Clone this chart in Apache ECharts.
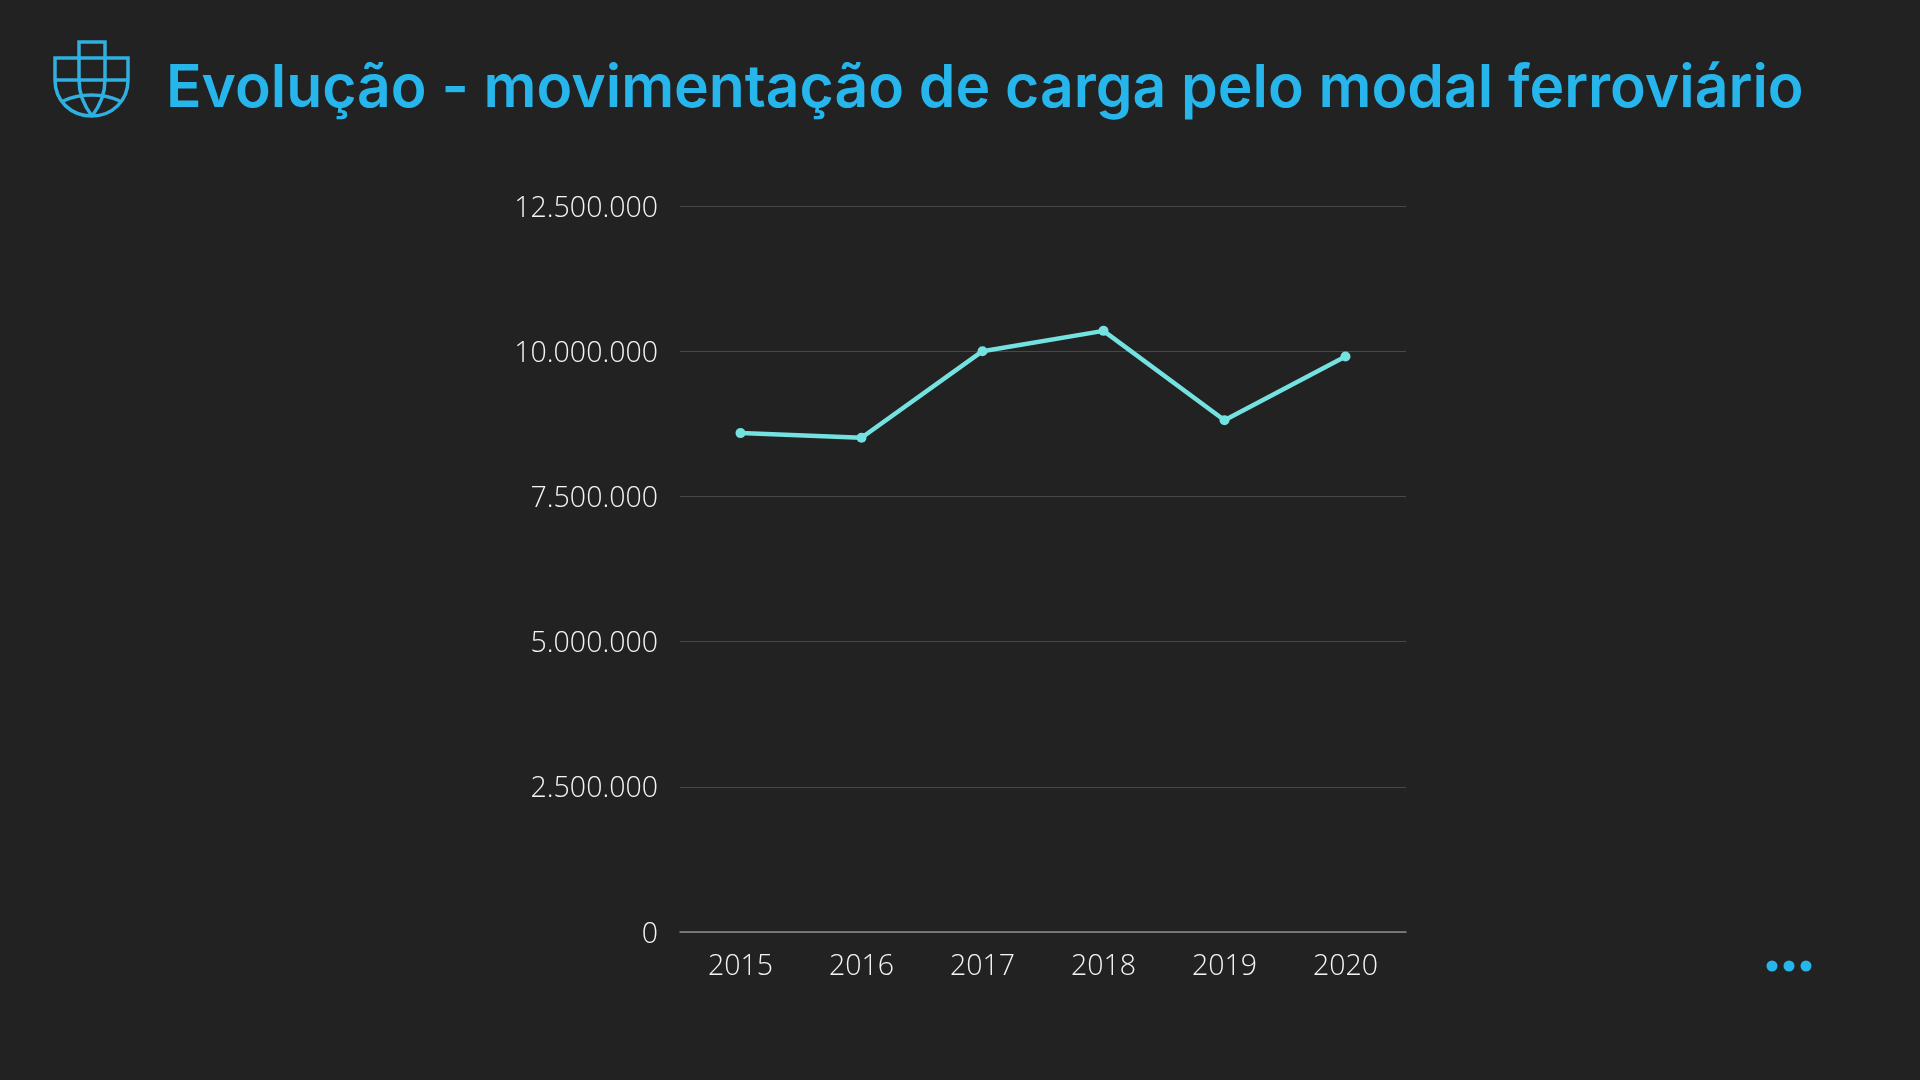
<!DOCTYPE html>
<html>
<head>
<meta charset="utf-8">
<title>Evolução - movimentação de carga</title>
<script src="https://cdn.jsdelivr.net/npm/echarts@6/dist/echarts.min.js"></script>
<style>
  html, body { margin: 0; padding: 0; background: #222222; }
  #chart { width: 1920px; height: 1080px; }
</style>
</head>
<body>
<div id="chart"></div>
<script>
const titleText = 'Evolução - movimentação de carga pelo modal ferroviário';
const years = ['2015', '2016', '2017', '2018', '2019', '2020'];
const cargo = [8590000, 8510000, 10000000, 10350000, 8810000, 9910000];
const blue = '#26b6ec';
const iconBlue = '#2fb0e0';

// 12.500.000 style labels
function fmt(v) {
  return String(v).replace(/\B(?=(\d{3})+(?!\d))/g, '.');
}

function iconLine(points) {
  return { type: 'polyline', shape: { points: points }, style: { fill: 'none', stroke: iconBlue, lineWidth: 3.5 } };
}

function iconCurve(x1, y1, cpx1, cpy1, cpx2, cpy2, x2, y2) {
  return {
    type: 'bezierCurve',
    shape: { x1, y1, cpx1, cpy1, cpx2, cpy2, x2, y2 },
    style: { fill: 'none', stroke: iconBlue, lineWidth: 3.5 }
  };
}

const chart = echarts.init(document.getElementById('chart'));
chart.setOption({
  backgroundColor: '#222222',
  animation: false,
  title: {
    text: titleText,
    left: 161,
    top: 55,
    textStyle: { color: blue, fontFamily: 'Inter', fontWeight: 600, fontSize: 58.8 }
  },
  grid: { left: 680, top: 206, width: 726, height: 726 },
  xAxis: {
    type: 'category',
    data: years,
    axisLine: { lineStyle: { color: '#8c8c8c', width: 1.5 } },
    axisTick: { show: false },
    axisLabel: { color: '#f4f4f4', fontFamily: 'Open Sans', fontWeight: 300, fontSize: 28.5, margin: 20 }
  },
  yAxis: {
    type: 'value',
    min: 0,
    max: 12500000,
    interval: 2500000,
    axisLine: { show: false },
    axisTick: { show: false },
    splitLine: { lineStyle: { color: '#484848', width: 1.2 } },
    axisLabel: {
      color: '#f4f4f4', fontFamily: 'Open Sans', fontWeight: 300, fontSize: 28.5, margin: 22,
      verticalAlign: 'top',
      lineHeight: 5,
      formatter: fmt
    }
  },
  series: [{
    type: 'line',
    data: cargo,
    symbol: 'circle',
    symbolSize: 10,
    lineStyle: { color: '#73e2e0', width: 4.5 },
    itemStyle: { color: '#73e2e0' }
  }],
  graphic: [
    // ship icon
    iconLine([[55, 80], [55, 58], [128, 58], [128, 80]]),
    iconLine([[55, 80], [128, 80]]),
    iconLine([[79, 80], [79, 42], [105, 42], [105, 80]]),
    iconCurve(55, 80, 55, 101, 71, 116, 92, 116),
    iconCurve(128, 80, 128, 101, 112, 116, 92, 116),
    iconCurve(79, 80, 79, 95, 85, 107, 92, 116),
    iconCurve(105, 80, 105, 95, 99, 107, 92, 116),
    iconCurve(63, 101, 80, 93, 103, 93, 120, 101),
    // dots bottom right
    { type: 'circle', shape: { cx: 1772, cy: 966, r: 5.5 }, style: { fill: blue } },
    { type: 'circle', shape: { cx: 1789, cy: 966, r: 5.5 }, style: { fill: blue } },
    { type: 'circle', shape: { cx: 1806, cy: 966, r: 5.5 }, style: { fill: blue } }
  ]
});
</script>
</body>
</html>
